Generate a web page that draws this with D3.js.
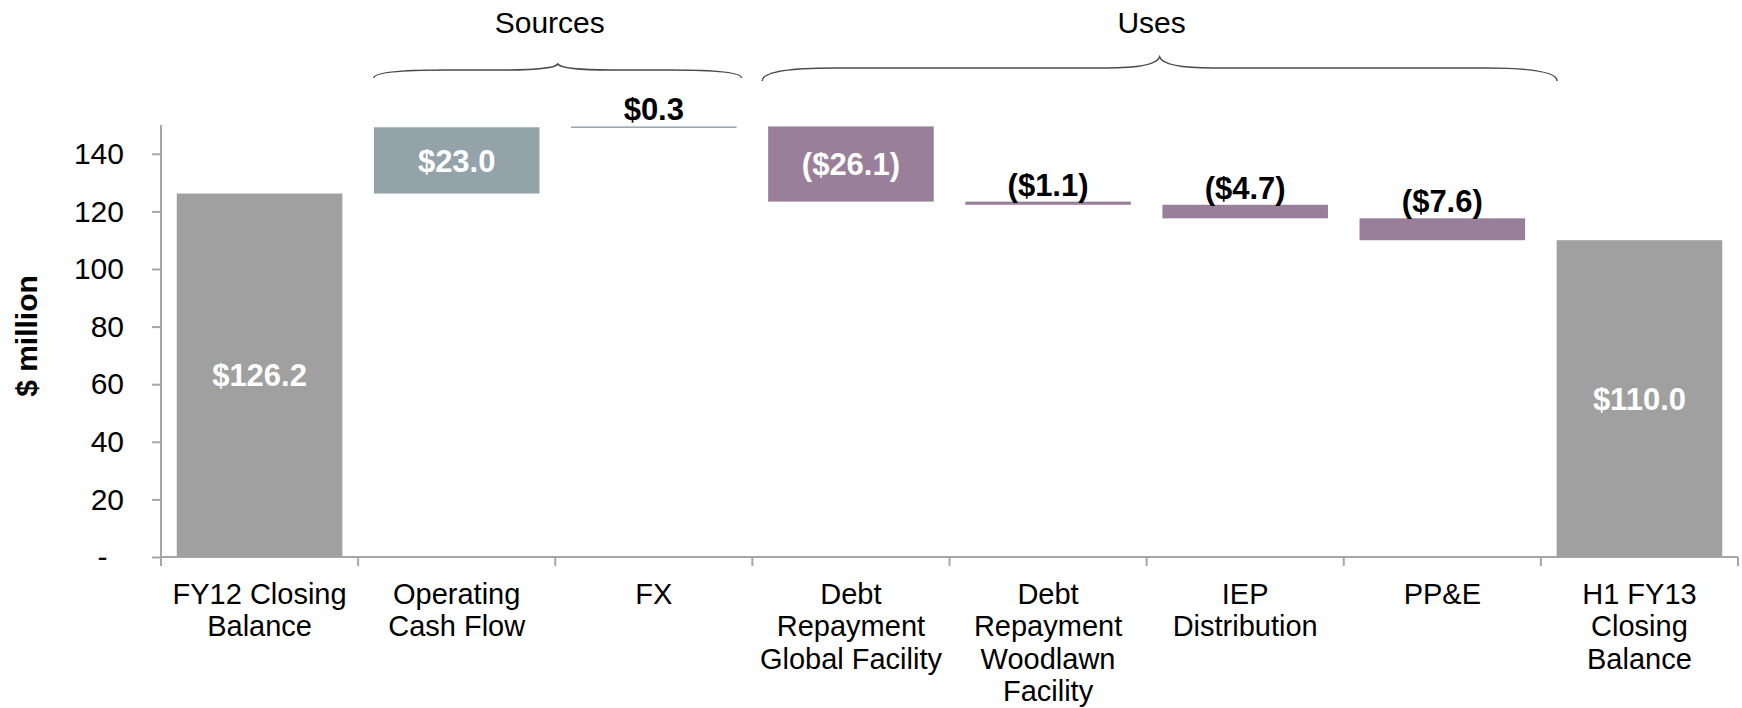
<!DOCTYPE html>
<meta charset="utf-8">
<style>
    body { margin: 0; background: #fff; }
    svg text { font-family: "Liberation Sans", Arial, sans-serif; }
    .tick text { font-size: 30px; fill: #000; }
    .domain, .tick line { stroke: #a6a6a6; stroke-width: 2px; }
    .valueLabel { font-size: 31px; font-weight: bold; }
    .catLabel { font-size: 29px; }
    .groupLabel { font-size: 30px; }
    .brace { fill: none; stroke: #4a4a4a; stroke-width: 1.5px; }
</style>

<svg width="1742" height="708"></svg>
<script src="https://d3js.org/d3.v7.min.js"></script>
<script>
    // chart data
    var categories = ["FY12 Closing Balance", "Operating Cash Flow", "FX",
        "Debt Repayment Global Facility", "Debt Repayment Woodlawn Facility",
        "IEP Distribution", "PP&E", "H1 FY13 Closing Balance"];
    var catLines = [["FY12 Closing", "Balance"], ["Operating", "Cash Flow"], ["FX"],
        ["Debt", "Repayment", "Global Facility"], ["Debt", "Repayment", "Woodlawn", "Facility"],
        ["IEP", "Distribution"], ["PP&E"], ["H1 FY13", "Closing", "Balance"]];
    var values = [126.2, 23.0, 0.3, -26.1, -1.1, -4.7, -7.6, 110.0];
    var kinds = ["total", "source", "source", "use", "use", "use", "use", "total"];
    var valueText = ["$126.2", "$23.0", "$0.3", "($26.1)", "($1.1)", "($4.7)", "($7.6)", "$110.0"];
    var yTicks = [0, 20, 40, 60, 80, 100, 120, 140];
    var groups = [
        { name: "Sources", from: "Operating Cash Flow", to: "FX" },
        { name: "Uses", from: "Debt Repayment Global Facility", to: "PP&E" }
    ];

    var colors = { total: "#a0a0a0", source: "#93a3a9", use: "#9a7f9a" };

    var svg = d3.select("svg"),
        margin = { left: 161, right: 4, top: 125, bottom: 151 },
        width = +svg.attr("width"),
        height = +svg.attr("height");

    var x = d3.scaleBand()
        .domain(categories)
        .range([margin.left, width - margin.right])
        .paddingInner(0.16)
        .paddingOuter(0.08);

    var y = d3.scaleLinear()
        .domain([0, 150])
        .range([height - margin.bottom, margin.top]);

    // running totals for the waterfall
    var rows = [];
    var run = 0;
    categories.forEach(function (c, i) {
        var v = values[i], lo, hi;
        if (kinds[i] == "total") { lo = 0; hi = v; run = v; }
        else { lo = Math.min(run, run + v); hi = Math.max(run, run + v); run = run + v; }
        rows.push({ cat: c, lo: lo, hi: hi, kind: kinds[i], label: valueText[i] });
    });

    // axes
    var yAxis = svg.append("g")
        .attr("transform", "translate(" + margin.left + ",0)")
        .call(d3.axisLeft(y).tickValues(yTicks).tickSize(9).tickPadding(28)
            .tickFormat(function (d) { return d == 0 ? "-" : d; }));
    yAxis.select(".domain").attr("d", "M0," + (y(0) + 9) + "V" + y(150));
    yAxis.selectAll(".tick text").filter(function (d) { return d == 0; }).attr("dx", "-0.55em");

    var xAxis = svg.append("g")
        .attr("transform", "translate(0," + y(0) + ")")
        .call(d3.axisBottom(x).tickSize(0).tickFormat(""));
    xAxis.selectAll(".tick").remove();
    var bounds = categories.map(function (c) { return x(c) - x.step() * x.paddingInner() / 2; });
    bounds.push(width - margin.right);
    xAxis.selectAll(".sep")
        .data(bounds).enter()
        .append("line")
        .attr("x1", function (d) { return d; })
        .attr("x2", function (d) { return d; })
        .attr("y1", 0).attr("y2", 9)
        .attr("stroke", "#a6a6a6").attr("stroke-width", 2);
    xAxis.select(".domain").attr("d", "M" + margin.left + ",0H" + (width - margin.right));

    // y title
    svg.append("text")
        .attr("transform", "translate(37," + 336 + ") rotate(-90)")
        .attr("text-anchor", "middle")
        .style("font-size", "30px")
        .style("font-weight", "bold")
        .text("$ million");

    // bars
    svg.append("g").selectAll("rect")
        .data(rows).enter()
        .append("rect")
        .attr("x", function (d) { return x(d.cat); })
        .attr("width", x.bandwidth())
        .attr("y", function (d) { return y(d.hi); })
        .attr("height", function (d) { return Math.max(1.5, y(d.lo) - y(d.hi)); })
        .attr("fill", function (d) { return colors[d.kind]; });

    // value labels: inside for tall bars, above for thin ones
    svg.append("g").selectAll("text")
        .data(rows).enter()
        .append("text")
        .attr("class", "valueLabel")
        .attr("text-anchor", "middle")
        .attr("x", function (d) { return x(d.cat) + x.bandwidth() / 2; })
        .attr("y", function (d) {
            var inside = (y(d.lo) - y(d.hi)) > 40;
            return inside ? (y(d.lo) + y(d.hi)) / 2 : y(d.hi) - 6;
        })
        .attr("dy", function (d) { return (y(d.lo) - y(d.hi)) > 40 ? "0.36em" : 0; })
        .attr("fill", function (d) { return (y(d.lo) - y(d.hi)) > 40 ? "#fff" : "#000"; })
        .text(function (d) { return d.label; });

    // category labels
    var cats = svg.append("g").selectAll("text")
        .data(categories).enter()
        .append("text")
        .attr("class", "catLabel")
        .attr("text-anchor", "middle")
        .attr("x", function (d) { return x(d) + x.bandwidth() / 2; })
        .attr("y", y(0) + 47);
    cats.selectAll("tspan")
        .data(function (d, i) { return catLines[i]; }).enter()
        .append("tspan")
        .attr("x", function () { return d3.select(this.parentNode).attr("x"); })
        .attr("dy", function (d, i) { return i == 0 ? 0 : 32.3; })
        .text(function (d) { return d; });

    // braces over the groups
    function bracePath(x0, x1, yEnd, yFlat, yTip) {
        var xm = (x0 + x1) / 2, r = 18;
        return "M" + x0 + "," + yEnd +
            "Q" + x0 + "," + yFlat + " " + (x0 + r * 4) + "," + yFlat +
            "L" + (xm - r * 3) + "," + yFlat +
            "Q" + (xm - 4) + "," + yFlat + " " + xm + "," + yTip +
            "Q" + (xm + 4) + "," + yFlat + " " + (xm + r * 3) + "," + yFlat +
            "L" + (x1 - r * 4) + "," + yFlat +
            "Q" + x1 + "," + yFlat + " " + x1 + "," + yEnd;
    }
    var ext = { Sources: [0, 5], Uses: [-6, 32] };
    groups.forEach(function (g) {
        var x0 = x(g.from) + ext[g.name][0];
        var x1 = x(g.to) + x.bandwidth() + ext[g.name][1];
        svg.append("path")
            .attr("class", "brace")
            .attr("d", g.name == "Uses" ? bracePath(x0, x1, 81, 68, 57) : bracePath(x0, x1, 78, 70, 64));
        svg.append("text")
            .attr("class", "groupLabel")
            .attr("text-anchor", "middle")
            .attr("x", (x0 + x1) / 2 - 8)
            .attr("y", 33)
            .text(g.name);
    });
</script>
